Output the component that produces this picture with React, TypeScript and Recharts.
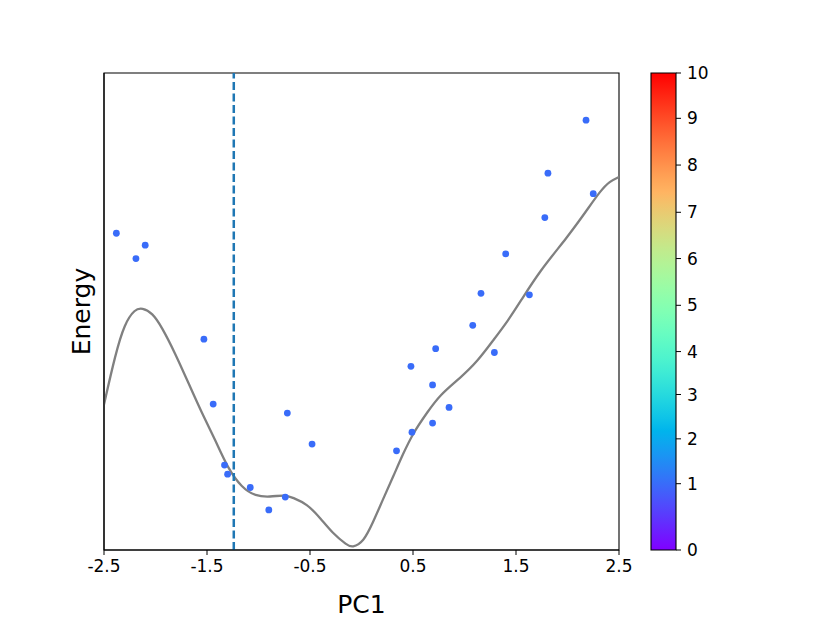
import {
  ComposedChart,
  Line,
  Scatter,
  XAxis,
  YAxis,
  ReferenceLine,
  ReferenceArea,
  Label,
} from "recharts";

// fitted energy curve along PC1
const curvePC1 = [
  -2.5, -2.39, -2.3, -2.2, -2.13, -2.03, -1.94, -1.81, -1.68, -1.55, -1.42, -1.3,
  -1.16, -1.03, -0.89, -0.74, -0.67, -0.53, -0.4, -0.28, -0.14, -0.09, 0.02, 0.11,
  0.21, 0.31, 0.4, 0.5, 0.64, 0.76, 0.96, 1.12, 1.28, 1.42, 1.54, 1.73, 2.0, 2.19,
  2.32, 2.41, 2.5,
];
const curveEnergy = [
  3.05, 4.1, 4.75, 5.05, 5.08, 4.97, 4.68, 4.13, 3.5, 2.87, 2.31, 1.72,
  1.3, 1.13, 1.11, 1.16, 1.1, 0.97, 0.67, 0.35, 0.1, 0.05, 0.17, 0.57,
  1.07, 1.55, 2.0, 2.45, 2.89, 3.25, 3.61, 3.94, 4.4, 4.8, 5.2, 5.85, 6.56, 7.13,
  7.53, 7.73, 7.82,
];

// sampled structures
const pointPC1 = [
  -2.38, -2.1, -2.19, -1.53, -1.44, -0.72, -0.48, -1.33, -1.3, -1.08, -0.74, -0.9,
  2.18, 1.81, 2.25, 1.78, 1.4, 1.16, 1.63, 1.08, 0.72, 1.29, 0.48, 0.69, 0.85, 0.69,
  0.49, 0.34,
];
const pointEnergy = [
  6.64, 6.39, 6.11, 4.42, 3.06, 2.87, 2.22, 1.78, 1.59, 1.31, 1.11, 0.84,
  9.01, 7.9, 7.47, 6.97, 6.21, 5.38, 5.35, 4.71, 4.22, 4.14, 3.85, 3.46, 2.99, 2.66,
  2.47, 2.08,
];

const xTicks = [-2.5, -1.5, -0.5, 0.5, 1.5, 2.5];
const cutPC1 = -1.24;

// colorbar ticks (labels and their position along the bar)
const cbarLabels = [0, 1, 2, 3, 4, 5, 6, 7, 8, 9, 10];
const cbarPos = [0, 0.139, 0.233, 0.326, 0.416, 0.513, 0.611, 0.708, 0.807, 0.905, 1];

const curveData = curvePC1.map((x, i) => ({ x, y: curveEnergy[i] }));
const pointData = pointPC1.map((x, i) => ({ x, y: pointEnergy[i] }));
const cbarData = cbarPos.map((pos, i) => ({ pos, label: cbarLabels[i] }));

const font = "'DejaVu Sans', sans-serif";
const tickStyle = { fontSize: 17, fill: "#000", fontFamily: font };
const dotColor = "#396cf9";

function rainbow(t: number) {
  const r = Math.min(1, Math.abs(2 * t - 0.5));
  const g = Math.sin(Math.PI * t);
  const b = Math.cos((Math.PI * t) / 2);
  const h = (v: number) =>
    Math.round(Math.max(0, v) * 255)
      .toString(16)
      .padStart(2, "0");
  return `#${h(r)}${h(g)}${h(b)}`;
}
const gradStops = Array.from({ length: 41 }, (_, i) => i / 40);

export default function App() {
  return (
    <div
      style={{
        position: "absolute",
        left: 0,
        top: 0,
        width: 830,
        height: 622,
        background: "#fff",
      }}
    >
      <div style={{ position: "absolute", left: 0, top: 0 }}>
        <ComposedChart
          width={830}
          height={622}
          margin={{ top: 73, right: 211, left: 54, bottom: 8 }}
        >
          <XAxis
            type="number"
            dataKey="x"
            domain={[-2.5, 2.5]}
            ticks={xTicks}
            allowDataOverflow
            height={64}
            tick={tickStyle}
            tickSize={5}
            tickMargin={5}
            tickLine={{ stroke: "#000", strokeWidth: 1 }}
            axisLine={{ stroke: "#000", strokeWidth: 1.1 }}
          >
            <Label
              content={({ viewBox }: any) => (
                <text
                  x={viewBox.x + viewBox.width / 2}
                  y={viewBox.y + 63}
                  textAnchor="middle"
                  fontSize={25}
                  fontFamily={font}
                  fill="#000"
                >
                  PC1
                </text>
              )}
            />
          </XAxis>
          <YAxis
            type="number"
            dataKey="y"
            domain={[0, 10]}
            allowDataOverflow
            width={50}
            tick={false}
            tickLine={false}
            axisLine={{ stroke: "#000", strokeWidth: 1.1 }}
          >
            <Label
              content={({ viewBox }: any) => {
                const cx = viewBox.x + viewBox.width - 14;
                const cy = viewBox.y + viewBox.height / 2;
                return (
                  <text
                    x={cx}
                    y={cy}
                    transform={`rotate(-90 ${cx} ${cy})`}
                    textAnchor="middle"
                    fontSize={25}
                    fontFamily={font}
                    fill="#000"
                  >
                    Energy
                  </text>
                );
              }}
            />
          </YAxis>
          <ReferenceArea
            x1={-2.5}
            x2={2.5}
            y1={0}
            y2={10}
            fill="none"
            fillOpacity={0}
            stroke="#000"
            strokeWidth={1.1}
          />
          <Line
            data={curveData}
            dataKey="y"
            type="basis"
            stroke="#808080"
            strokeWidth={2.3}
            dot={false}
            activeDot={false}
            isAnimationActive={false}
          />
          <Scatter
            data={pointData}
            fill={dotColor}
            isAnimationActive={false}
            shape={(p: any) => <circle cx={p.cx} cy={p.cy} r={3.4} fill={dotColor} />}
          />
          <ReferenceLine
            x={cutPC1}
            stroke="#1f77b4"
            strokeWidth={2.5}
            strokeDasharray="8 3.5"
          />
        </ComposedChart>
      </div>
      <div style={{ position: "absolute", left: 0, top: 0 }}>
        <ComposedChart
          width={830}
          height={622}
          data={cbarData}
          margin={{ top: 73, right: 94, left: 651, bottom: 72 }}
        >
          <defs>
            <linearGradient id="cbar" x1="0" y1="1" x2="0" y2="0">
              {gradStops.map((t) => (
                <stop key={t} offset={t} stopColor={rainbow(t)} />
              ))}
            </linearGradient>
          </defs>
          <XAxis type="number" dataKey="pos" domain={[0, 1]} hide />
          <YAxis
            type="number"
            dataKey="pos"
            orientation="right"
            domain={[0, 1]}
            ticks={cbarPos}
            tickFormatter={(v: number) => String(cbarLabels[cbarPos.indexOf(v)])}
            width={60}
            tick={tickStyle}
            tickSize={5}
            tickMargin={6}
            tickLine={{ stroke: "#000", strokeWidth: 1 }}
            axisLine={false}
          />
          <ReferenceArea
            x1={0}
            x2={1}
            y1={0}
            y2={1}
            fill="url(#cbar)"
            fillOpacity={1}
            stroke="#000"
            strokeWidth={1.1}
          />
        </ComposedChart>
      </div>
    </div>
  );
}
